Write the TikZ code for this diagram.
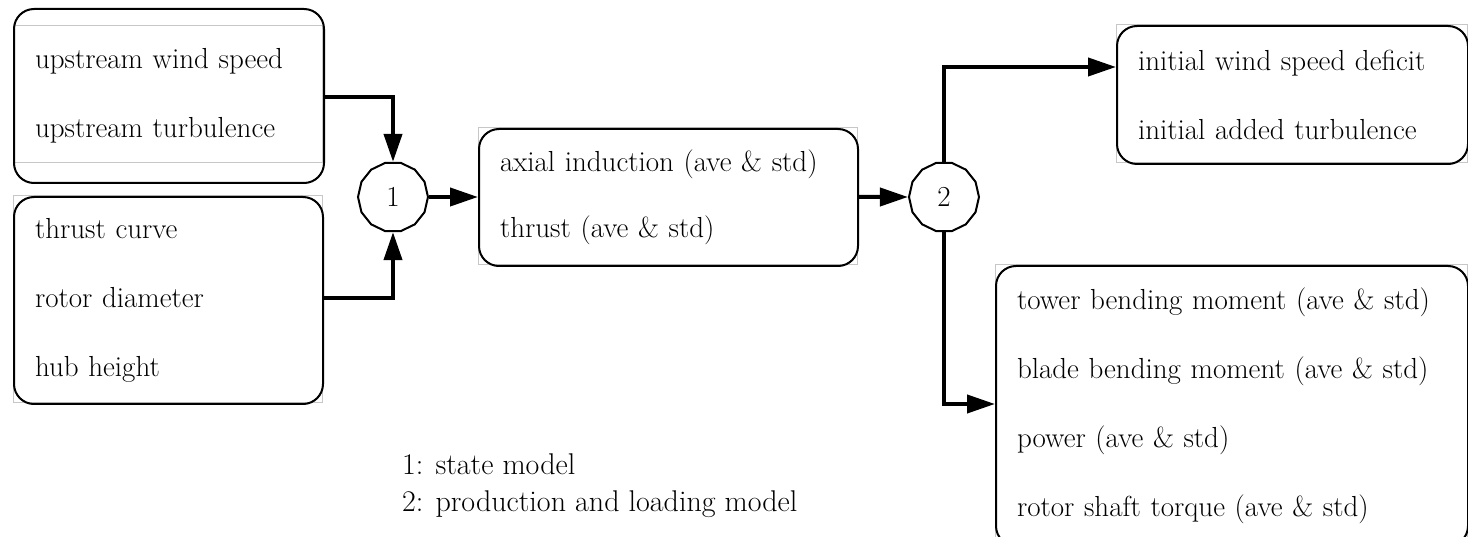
\documentclass[tikz,border=0pt]{standalone}
\usetikzlibrary{arrows.meta,shapes.geometric,calc}
\begin{document}
\begin{tikzpicture}[x=1pt,y=-1pt,
  box/.style={draw,line width=2pt,rounded corners=20pt,align=left,
    inner xsep=21pt,inner ysep=0pt,anchor=north west,
    font=\rmfamily\fontsize{29}{69}\selectfont},
  frame/.style={draw=black!22,line width=1pt},
  model/.style={draw,line width=2pt,regular polygon,regular polygon sides=14,
    minimum size=70pt,inner sep=0pt,font=\rmfamily\fontsize{29}{34}\selectfont},
  flow/.style={line width=4pt,-{Triangle[length=28pt,width=18pt]}},
  legend/.style={anchor=west,align=left,inner sep=0pt,
    font=\rmfamily\fontsize{30}{37}\selectfont}]
\useasboundingbox (0,0) rectangle (1468,537);

% faint frames of the boxes
\draw[frame] (14,26) rectangle (322,163);
\draw[frame] (13,196) rectangle (322,403);
\draw[frame] (478,128) rectangle (857,265);
\draw[frame] (1116,25) rectangle (1467,163);
\draw[frame] (995,265) rectangle (1467,545);

% inputs
\node[box,minimum width=310pt,minimum height=174pt,text width=268pt]
  (A) at (13,8) {upstream wind speed\\upstream turbulence};
\node[box,minimum width=309pt,minimum height=207pt,text width=267pt]
  (B) at (13,196) {thrust curve\\rotor diameter\\hub height};

% state model output
\node[box,minimum width=379pt,minimum height=137pt,text width=337pt,
  font=\rmfamily\fontsize{29}{66}\selectfont]
  (C) at (478,128) {axial induction (ave \& std)\\thrust (ave \& std)};

% wake and loads outputs
\node[box,minimum width=351pt,minimum height=138pt,text width=309pt]
  (D) at (1116,25) {initial wind speed deficit\\initial added turbulence};
\node[box,minimum width=472pt,minimum height=280pt,text width=430pt]
  (E) at (995,265) {tower bending moment (ave \& std)\\blade bending moment (ave \& std)\\power (ave \& std)\\rotor shaft torque (ave \& std)};

% models
\node[model] (m1) at (393,197) {1};
\node[model] (m2) at (944,197) {2};

% connectors
\coordinate (a1) at (A.east |- 0,97);
\coordinate (b1) at (B.east |- 0,298);
\coordinate (d1) at ($(D.north west)+(0,42)$);
\coordinate (e1) at ($(E.north west)+(0,139)$);
\draw[flow] (a1) -| (m1.north);
\draw[flow] (b1) -| (m1.south);
\draw[flow] (m1) -- (m1 -| C.west);
\draw[flow] (C.east |- m2) -- (m2.west);
\draw[flow] (m2.north) |- (d1);
\draw[flow] (m2.south) |- (e1);

% legend
\node[legend] (L) at (402,486) {1: state model\\2: production and loading model};
\end{tikzpicture}
\end{document}
